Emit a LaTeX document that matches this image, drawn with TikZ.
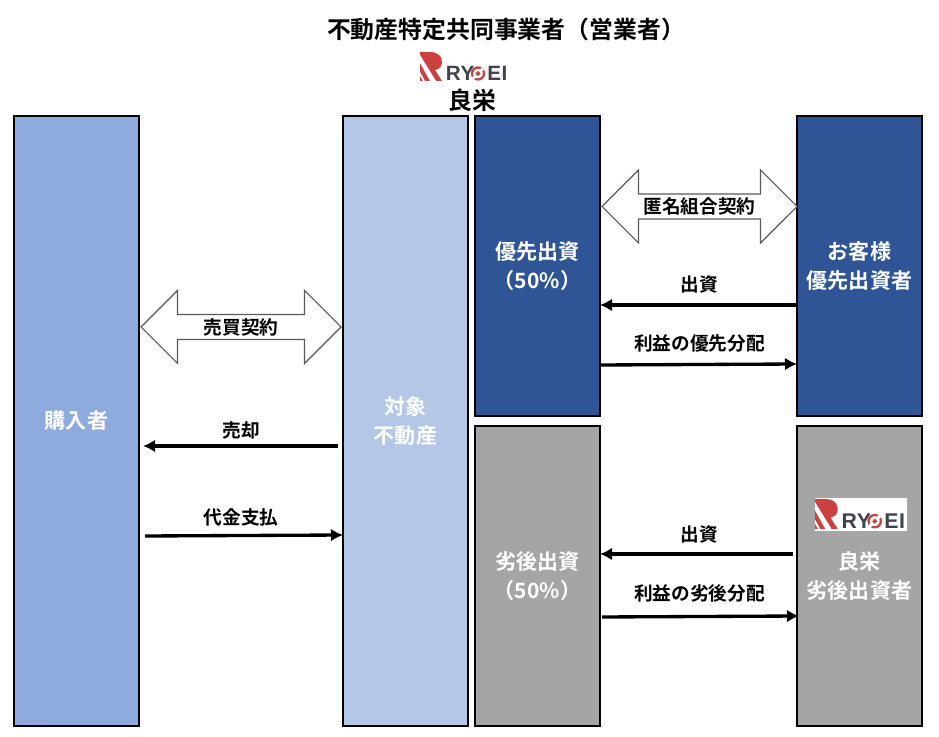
\documentclass[tikz,border=0pt]{standalone}
\usepackage{fontspec}
\setmainfont{Noto Sans CJK JP}[BoldFont={Noto Sans CJK JP Bold}]
\newfontfamily\logofont{Liberation Sans}[LetterSpace=3]
\usetikzlibrary{shapes.arrows,arrows.meta}
\definecolor{bluelight}{HTML}{8FAADC}
\definecolor{bluepale}{HTML}{B4C7E7}
\definecolor{bluedark}{HTML}{2F5597}
\definecolor{greybox}{HTML}{A5A5A5}
\definecolor{logored}{HTML}{CC4040}
\definecolor{logogrey}{HTML}{3F444C}
\definecolor{arrowline}{HTML}{5A5A5A}
\tikzset{
  panel/.style={draw=black,line width=1.6pt,minimum width=124.5*0.75pt,inner sep=0pt,font=\bfseries\fontsize{15.8}{22}\selectfont,text=white,align=center},
  dblarrow/.style={double arrow,draw=arrowline,fill=white,line width=0.8pt,double arrow head extend=18*0.75pt,double arrow tip angle=90,inner sep=0pt,minimum width=73*0.75pt,font=\bfseries\fontsize{14}{15}\selectfont,text=black},
  flow/.style={-{Latex[length=9pt,width=9.5pt]},line width=2.5pt,black},
  flowlabel/.style={font=\bfseries\fontsize{14}{15}\selectfont,text=black,inner sep=0pt},
  heading/.style={font=\bfseries\fontsize{17.9}{20}\selectfont,text=black,inner sep=0pt},
  logotext/.style={font=\logofont\bfseries\fontsize{15.5}{15}\selectfont,text=logogrey,inner sep=0pt,anchor=base west,transform shape},
}
\newcommand{\ryoeilogo}[3]{%
  \begin{scope}[shift={(#1,#2)},scale=#3]
    \fill[logored] (0,0) -- (9,0) .. controls (18,0) and (22,4) .. (22,10) .. controls (22,14) and (20,17) .. (15,18) -- (22,29) -- (0,29) -- cycle;
    \fill[white] (0,3) -- (16,29) -- (10,29) -- (0,11) -- cycle;
    \fill[white] (0,20) -- (5,29) -- (3,29) -- (0,24) -- cycle;
    \node[logotext] at (25.5,29) {RY};
    \draw[logored,line width=1.7pt] (58,21.5) circle (6);
    \fill[white,rotate around={45:(58,21.5)}] (49,20) rectangle (67,23);
    \fill[logored,rotate around={45:(58,21.5)}] (56.2,19.7) rectangle (59.8,23.3);
    \node[logotext] at (67,29) {EI};
  \end{scope}}
\begin{document}
\begin{tikzpicture}[x=0.75pt,y=-0.75pt]
\useasboundingbox (0,0) rectangle (939,737);
\node[panel,fill=bluelight,minimum height=610*0.75pt] (buyer) at (76.5,421) {購入者};
\node[panel,fill=bluepale,minimum height=610*0.75pt] (asset) at (405.5,421) {対象\\不動産};
\node[panel,fill=bluedark,minimum height=300*0.75pt] (senior) at (537.5,266) {優先出資\\（50\%）};
\node[panel,fill=bluedark,minimum height=300*0.75pt] (customer) at (859.5,266) {お客様\\優先出資者};
\node[panel,fill=greybox,minimum height=300*0.75pt] (junior) at (537.5,576) {劣後出資\\（50\%）};
\node[panel,fill=greybox,minimum height=300*0.75pt] (ryoeijr) at (859.5,576) {};
\node[panel,draw=none,fill=none,anchor=center] (ryoeijrtext) at (859.5,576) {良栄\\劣後出資者};
\node[heading] (title) at (506,29) {不動産特定共同事業者（営業者）};
\node[heading] (ryoeiname) at (472,100) {良栄};
\ryoeilogo{420}{52}{1}
\fill[white] (815,498) rectangle (907,531);
\ryoeilogo{815}{499}{1.03}
\node[dblarrow,minimum height=195*0.75pt] (anon) at (699.5,206.5) {匿名組合契約};
\node[dblarrow,minimum height=200*0.75pt] (sale) at (241,327) {売買契約};
\coordinate (c1s) at (797,305); \coordinate (c1e) at (600,305);
\coordinate (c2s) at (600,365); \coordinate (c2e) at (797,364);
\coordinate (c3s) at (338,446); \coordinate (c3e) at (143,446);
\coordinate (c4s) at (145,536); \coordinate (c4e) at (343,535);
\coordinate (c5s) at (793,554); \coordinate (c5e) at (600,554);
\coordinate (c6s) at (602,617); \coordinate (c6e) at (799,616);
\draw[flow] (c1s) -- (c1e);
\draw[flow] (c2s) -- (c2e);
\draw[flow] (c3s) -- (c3e);
\draw[flow] (c4s) -- (c4e);
\draw[flow] (c5s) -- (c5e);
\draw[flow] (c6s) -- (c6e);
\node[flowlabel] (l1) at (699.5,284) {出資};
\node[flowlabel] (l2) at (699.5,343) {利益の優先分配};
\node[flowlabel] (l3) at (241,430) {売却};
\node[flowlabel] (l4) at (241,517) {代金支払};
\node[flowlabel] (l5) at (699.5,534) {出資};
\node[flowlabel] (l6) at (699.5,593) {利益の劣後分配};
\end{tikzpicture}
\end{document}
